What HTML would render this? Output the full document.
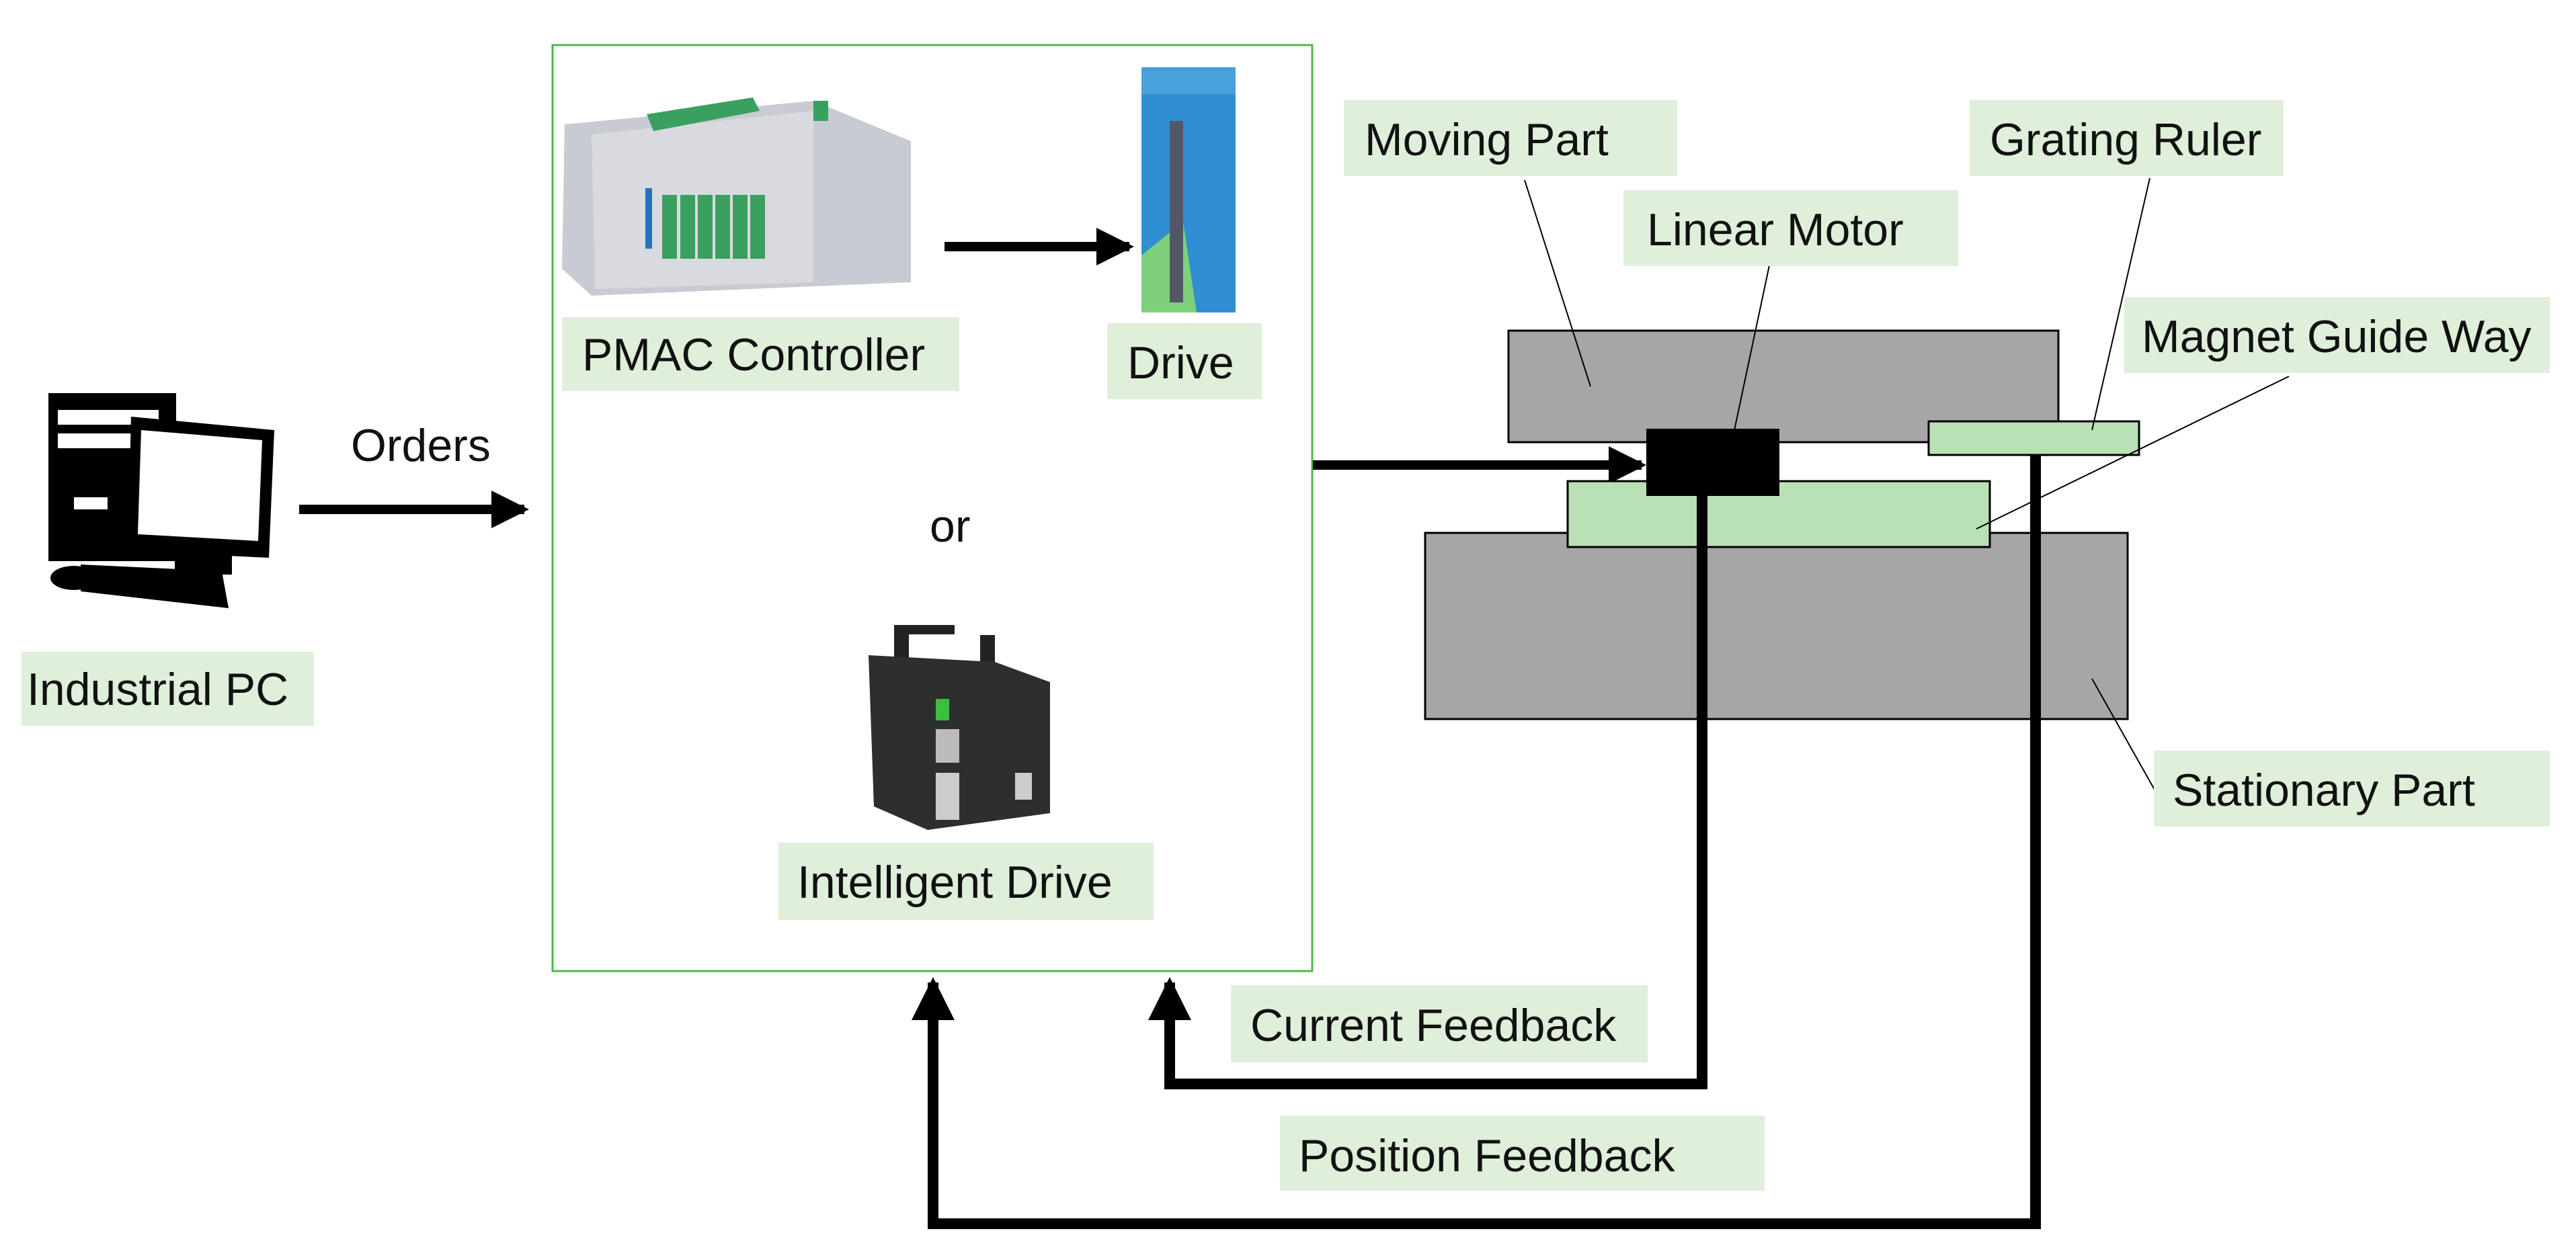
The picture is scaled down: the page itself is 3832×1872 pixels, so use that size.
<!DOCTYPE html>
<html><head><meta charset="utf-8"><style>
html,body{margin:0;padding:0;background:#fff;width:3832px;height:1872px;overflow:hidden}
svg{display:block}
text{font-family:"Liberation Sans",sans-serif;font-size:68px;fill:#111}
</style></head><body>
<svg width="3832" height="1872" viewBox="0 0 3832 1872" xmlns="http://www.w3.org/2000/svg">
<defs>
<marker id="ah" markerWidth="4" markerHeight="4" refX="3.5" refY="2" orient="auto" markerUnits="strokeWidth"><path d="M0,0 L4,2 L0,4 Z" fill="#000"/></marker>
</defs>
<rect x="822" y="67" width="1130" height="1378" fill="none" stroke="#4cb848" stroke-width="3"/>

<g fill="#000">
<rect x="72" y="585" width="190" height="250"/>
<rect x="86" y="610" width="150" height="22" fill="#fff"/>
<rect x="86" y="645" width="150" height="22" fill="#fff"/>
<rect x="110" y="740" width="50" height="18" fill="#fff"/>
<polygon points="195,620 408,640 400,830 190,820"/>
<polygon points="210,640 390,655 384,805 205,795" fill="#fff"/>
<rect x="260" y="810" width="85" height="45"/>
<polygon points="120,840 330,850 340,905 120,880"/>
<ellipse cx="110" cy="860" rx="35" ry="18"/>
</g>
<rect x="32" y="970" width="435" height="110" fill="#dfefda"/>
<text x="40" y="1049">Industrial PC</text>

<text x="522" y="686">Orders</text>
<line x1="445" y1="758" x2="780" y2="758" stroke="#000" stroke-width="14" marker-end="url(#ah)"/>

<g>
<polygon points="840,185 1210,150 1355,210 1355,420 880,440 836,400" fill="#c9cbd3"/>
<polygon points="880,200 1210,165 1210,420 885,430" fill="#d8dae0"/>
<g fill="#3aa060">
<rect x="985" y="290" width="22" height="95"/><rect x="1012" y="290" width="22" height="95"/><rect x="1038" y="290" width="22" height="95"/><rect x="1064" y="290" width="22" height="95"/><rect x="1090" y="290" width="22" height="95"/><rect x="1116" y="290" width="22" height="95"/>
<polygon points="962,170 1120,145 1130,165 972,195"/>
<rect x="1210" y="150" width="22" height="30"/>
</g>
<rect x="960" y="280" width="10" height="90" fill="#2a70c0"/>
</g>
<rect x="836" y="472" width="591" height="110" fill="#dfefda"/>
<text x="866" y="551">PMAC Controller</text>

<line x1="1405" y1="367" x2="1680" y2="367" stroke="#000" stroke-width="14" marker-end="url(#ah)"/>

<rect x="1698" y="100" width="140" height="365" fill="#2f8fd0"/>
<polygon points="1698,380 1760,330 1780,465 1698,465" fill="#7ed07a"/>
<rect x="1740" y="180" width="20" height="270" fill="#556"/>
<rect x="1698" y="100" width="140" height="40" fill="#4aa0da"/>
<rect x="1647" y="481" width="230" height="113" fill="#dfefda"/>
<text x="1677" y="563">Drive</text>

<text x="1383" y="806">or</text>

<g>
<rect x="1330" y="930" width="22" height="50" fill="#222"/><rect x="1458" y="945" width="22" height="40" fill="#222"/>
<rect x="1340" y="930" width="80" height="14" fill="#222"/>
<polygon points="1292,975 1480,985 1562,1015 1562,1210 1380,1235 1300,1200" fill="#2c2f2e"/>
<rect x="1392" y="1040" width="20" height="32" fill="#3ac040"/>
<rect x="1392" y="1085" width="35" height="50" fill="#bbb"/>
<rect x="1392" y="1150" width="35" height="70" fill="#ccc"/>
<rect x="1510" y="1150" width="25" height="40" fill="#ccc"/>
</g>
<rect x="1158" y="1254" width="558" height="115" fill="#dfefda"/>
<text x="1186" y="1336">Intelligent Drive</text>

<line x1="1953" y1="692" x2="2442" y2="692" stroke="#000" stroke-width="14" marker-end="url(#ah)"/>

<rect x="2244" y="492" width="818" height="166" fill="#a6a6a6" stroke="#000" stroke-width="3"/>
<rect x="2120" y="793" width="1045" height="277" fill="#a6a6a6" stroke="#000" stroke-width="3"/>
<rect x="2332" y="716" width="628" height="98" fill="#bae0b6" stroke="#000" stroke-width="3"/>
<rect x="2869" y="627" width="313" height="50" fill="#bae0b6" stroke="#000" stroke-width="3"/>
<rect x="2449" y="638" width="198" height="100" fill="#000"/>

<polyline points="2532,738 2532,1613 1740,1613 1740,1462" fill="none" stroke="#000" stroke-width="16" marker-end="url(#ah)"/>
<polyline points="3028,677 3028,1821 1388,1821 1388,1462" fill="none" stroke="#000" stroke-width="16" marker-end="url(#ah)"/>

<g stroke="#000" stroke-width="2">
<line x1="2268" y1="268" x2="2366" y2="575"/>
<line x1="2632" y1="395" x2="2580" y2="640"/>
<line x1="3198" y1="265" x2="3112" y2="640"/>
<line x1="3405" y1="560" x2="2940" y2="787"/>
<line x1="3205" y1="1175" x2="3112" y2="1010"/>
</g>

<rect x="1999" y="149" width="496" height="113" fill="#dfefda"/>
<text x="2030" y="231">Moving Part</text>
<rect x="2415" y="283" width="498" height="113" fill="#dfefda"/>
<text x="2450" y="365">Linear Motor</text>
<rect x="2930" y="149" width="467" height="113" fill="#dfefda"/>
<text x="2960" y="231">Grating Ruler</text>
<rect x="3160" y="442" width="633" height="113" fill="#dfefda"/>
<text x="3186" y="524">Magnet Guide Way</text>
<rect x="3204" y="1117" width="589" height="113" fill="#dfefda"/>
<text x="3232" y="1199">Stationary Part</text>
<rect x="1831" y="1466" width="620" height="115" fill="#dfefda"/>
<text x="1860" y="1549">Current Feedback</text>
<rect x="1904" y="1660" width="721" height="112" fill="#dfefda"/>
<text x="1932" y="1743">Position Feedback</text>
</svg>
</body></html>
